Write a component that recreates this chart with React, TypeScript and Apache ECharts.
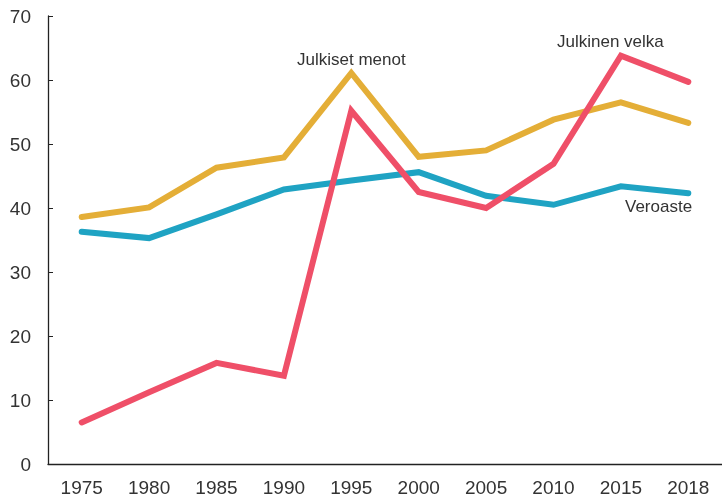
import React, { useEffect, useRef } from "react";
import * as echarts from "echarts";

const years = ["1975", "1980", "1985", "1990", "1995", "2000", "2005", "2010", "2015", "2018"];
const veroaste = [36.3, 35.3, 39.0, 42.9, 44.3, 45.6, 41.9, 40.5, 43.4, 42.3];
const julkisetMenot = [38.6, 40.1, 46.3, 47.9, 61.1, 48.0, 49.0, 53.8, 56.5, 53.3];
const julkinenVelka = [6.5, 11.2, 15.8, 13.8, 55.2, 42.5, 40.0, 46.9, 63.8, 59.7];
const yTicks = { min: 0, max: 70, interval: 10 };

const FONT = "Liberation Sans";

export default function App() {
  const ref = useRef<HTMLDivElement>(null);
  useEffect(() => {
    if (!ref.current) return;
    const chart = echarts.init(ref.current, undefined, { renderer: "svg" });
    const lineStyle = (color: string) => ({ color, width: 6, cap: "round" as const, join: "miter" as const });
    chart.setOption({
      animation: false,
      grid: { left: 48, right: 0, top: 16, bottom: 33, containLabel: false },
      xAxis: {
        type: "category",
        data: years,
        boundaryGap: true,
        axisLine: { lineStyle: { color: "#222", width: 1.3 } },
        axisTick: { inside: true, length: 5, lineStyle: { color: "#222" } },
        axisLabel: { color: "#333", fontSize: 19, fontFamily: FONT, margin: 14 },
        splitLine: { show: false },
      },
      yAxis: {
        type: "value",
        min: yTicks.min,
        max: yTicks.max,
        interval: yTicks.interval,
        axisLine: { show: true, lineStyle: { color: "#222", width: 1.3 } },
        axisTick: { show: true, inside: true, length: 5, lineStyle: { color: "#222" } },
        axisLabel: { color: "#333", fontSize: 19, fontFamily: FONT, margin: 17 },
        splitLine: { show: false },
      },
      series: [
        {
          name: "Veroaste",
          type: "line",
          data: veroaste,
          symbol: "none",
          lineStyle: lineStyle("#1fa3c3"),
          z: 2,
        },
        {
          name: "Julkiset menot",
          type: "line",
          data: julkisetMenot,
          symbol: "none",
          lineStyle: lineStyle("#e4ae37"),
          z: 3,
        },
        {
          name: "Julkinen velka",
          type: "line",
          data: julkinenVelka,
          symbol: "none",
          lineStyle: lineStyle("#ef4f68"),
          z: 4,
        },
      ],
      graphic: [
        { type: "text", left: 297, top: 51, style: { text: "Julkiset menot", fill: "#333", fontSize: 17, fontFamily: FONT } },
        { type: "text", left: 557, top: 33, style: { text: "Julkinen velka", fill: "#333", fontSize: 17, fontFamily: FONT } },
        { type: "text", left: 625, top: 198, style: { text: "Veroaste", fill: "#333", fontSize: 17, fontFamily: FONT } },
      ],
    });
    return () => chart.dispose();
  }, []);
  return <div ref={ref} style={{ position: "fixed", left: 0, top: 0, width: 722, height: 497 }} />;
}
